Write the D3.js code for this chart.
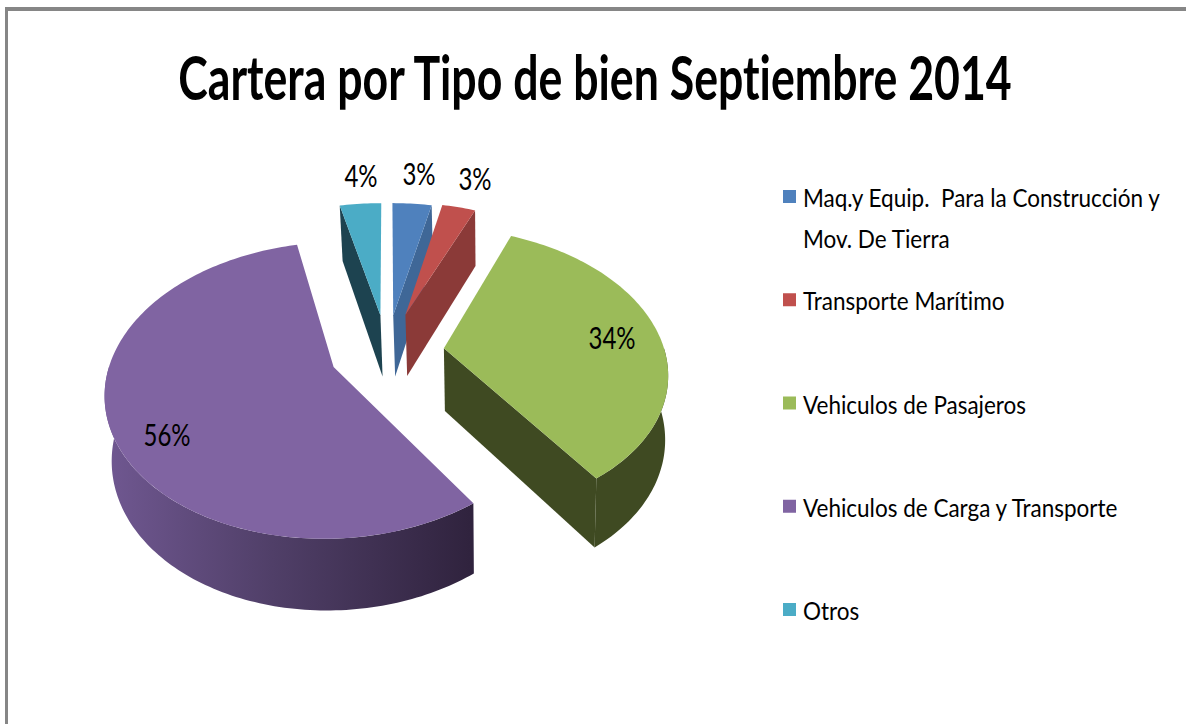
<!DOCTYPE html>
<html>
<head>
<meta charset="utf-8">
<script src="https://cdn.jsdelivr.net/npm/d3@7"></script>
<style>
    html, body { margin: 0; padding: 0; background: #fff; overflow: hidden; }
    text { font-family: Lato, "Open Sans", sans-serif; fill: #000; font-variant-ligatures: none; }
</style>
</head>
<body>
<div id="chart"></div>
<script>
var titleText = "Cartera por Tipo de bien Septiembre 2014";
var categories = ["Maq.y Equip.  Para la Construcción y|Mov. De Tierra", "Transporte Marítimo",
    "Vehiculos de Pasajeros", "Vehiculos de Carga y Transporte", "Otros"];
var values = [3.4, 2.9, 34.0, 56.1, 3.6];
var topColors = ["#4f81bd", "#c0504d", "#9bbb59", "#8064a2", "#4bacc6"];
var wallColors = ["#3f6797", "#8b3a38", "#3f4a22", "#5a4675", "#1d4350"];
var explodes = [0.275, 0.29, 0.26, 0.26, 0.275];

var width = 1186, height = 724;

// projection of the pie, a circle seen in perspective
var cx = 387, cy = 352,
    radius = 221,
    tilt = 140,
    depth = 63,
    persp = 0.155,
    depthPersp = 0.11,
    vanishX = 500,
    shrink = 0.018;

var svg = d3.select("#chart").append("svg")
    .attr("width", width)
    .attr("height", height);

// frame, only top and left sides are in the picture
svg.append("rect").attr("x", 5).attr("y", 7).attr("width", width).attr("height", 4).attr("fill", "#868686");
svg.append("rect").attr("x", 5).attr("y", 7).attr("width", 3).attr("height", height).attr("fill", "#868686");

var pie = d3.pie().sort(null).startAngle(0).endAngle(2 * Math.PI);
var arcs = pie(values);

// f = 0 is the tip of the slice, f = 1 the rim. bottom = point on the lower face
function project(d, a, f, bottom) {
    var mid = (d.startAngle + d.endAngle) / 2,
        e = explodes[d.index];
    var X = e * Math.sin(mid) + f * Math.sin(a),
        Z = e * Math.cos(mid) + f * Math.cos(a);
    var s = 1 / (1 + persp * Z);
    var x = cx + radius * X * s,
        y = cy - tilt * Z * s;
    if (bottom) {
        x = x + (vanishX - x) * shrink;
        y = y + depth / (1 + depthPersp * Z);
    }
    return [x, y];
}

function rim(d, a0, a1, bottom) {
    var n = Math.max(2, Math.ceil((a1 - a0) / 0.02));
    return d3.range(n + 1).map(function(i) {
        return project(d, a0 + (a1 - a0) * i / n, 1, bottom);
    });
}

var line = d3.line();

// wall under a radial edge shows only if the slice lies above that edge
function edgeVisible(d, a) {
    var tip = project(d, 0, 0, false),
        end = project(d, a, 1, false),
        inner = project(d, (d.startAngle + d.endAngle) / 2, 0.9, false);
    if (Math.abs(end[0] - tip[0]) < 1) return false;
    var yOnEdge = tip[1] + (end[1] - tip[1]) * (inner[0] - tip[0]) / (end[0] - tip[0]);
    return inner[1] < yOnEdge;
}

// purple rim is shaded from left to right
var grad = svg.append("defs").append("linearGradient")
    .attr("id", "rimShade")
    .attr("gradientUnits", "userSpaceOnUse")
    .attr("x1", 110).attr("x2", 470).attr("y1", 0).attr("y2", 0);
grad.append("stop").attr("offset", "0%").attr("stop-color", "#6f5790");
grad.append("stop").attr("offset", "45%").attr("stop-color", "#503f68");
grad.append("stop").attr("offset", "100%").attr("stop-color", "#30233e");

// back to front
var order = [4, 0, 1, 2, 3];
var slices = svg.append("g").attr("class", "slices");

order.forEach(function(i) {
    var d = arcs[i],
        g = slices.append("g");

    [d.startAngle, d.endAngle].forEach(function(a) {
        if (!edgeVisible(d, a)) return;
        g.append("path")
            .attr("d", line([
                project(d, 0, 0, false), project(d, a, 1, false),
                project(d, a, 1, true), project(d, 0, 0, true)
            ]) + "Z")
            .attr("fill", wallColors[i]);
    });

    var a0 = Math.max(d.startAngle, Math.PI / 2),
        a1 = Math.min(d.endAngle, Math.PI * 1.5);
    if (a1 > a0) {
        g.append("path")
            .attr("d", line(rim(d, a0, a1, false).concat(rim(d, a0, a1, true).reverse())) + "Z")
            .attr("fill", i === 3 ? "url(#rimShade)" : wallColors[i]);
    }

    g.append("path")
        .attr("d", line([project(d, 0, 0, false)].concat(rim(d, d.startAngle, d.endAngle, false))) + "Z")
        .attr("fill", topColors[i]);
});

// title
svg.append("text")
    .attr("transform", "translate(595,100) scale(0.72,1)")
    .attr("text-anchor", "middle")
    .style("font-size", "62px")
    .style("font-weight", "bold")
    .text(titleText);

// percent labels
var labelSpots = [[419, 185], [475, 190], [612, 349], [167, 446], [361, 187]];
var pct = d3.format(".0f");
svg.append("g").selectAll("text")
    .data(arcs)
    .enter().append("text")
    .attr("transform", function(d, i) {
        return "translate(" + labelSpots[i][0] + "," + labelSpots[i][1] + ") scale(0.8,1)";
    })
    .attr("text-anchor", "middle")
    .style("font-size", "30px")
    .text(function(d) { return pct(d.value) + "%"; });

// legend
var legendY = d3.scaleLinear().domain([0, 4]).range([207, 620]);
var legend = svg.append("g").attr("class", "legend");
categories.forEach(function(name, i) {
    var y = legendY(i);
    legend.append("rect")
        .attr("x", 783).attr("y", y - 17)
        .attr("width", 13).attr("height", 13)
        .attr("fill", topColors[i]);
    name.split("|").forEach(function(part, j) {
        legend.append("text")
            .style("white-space", "pre")
            .attr("transform", "translate(803," + (y + j * 41) + ") scale(0.9,1)")
            .style("font-size", "25px")
            .text(part);
    });
});
</script>
</body>
</html>
